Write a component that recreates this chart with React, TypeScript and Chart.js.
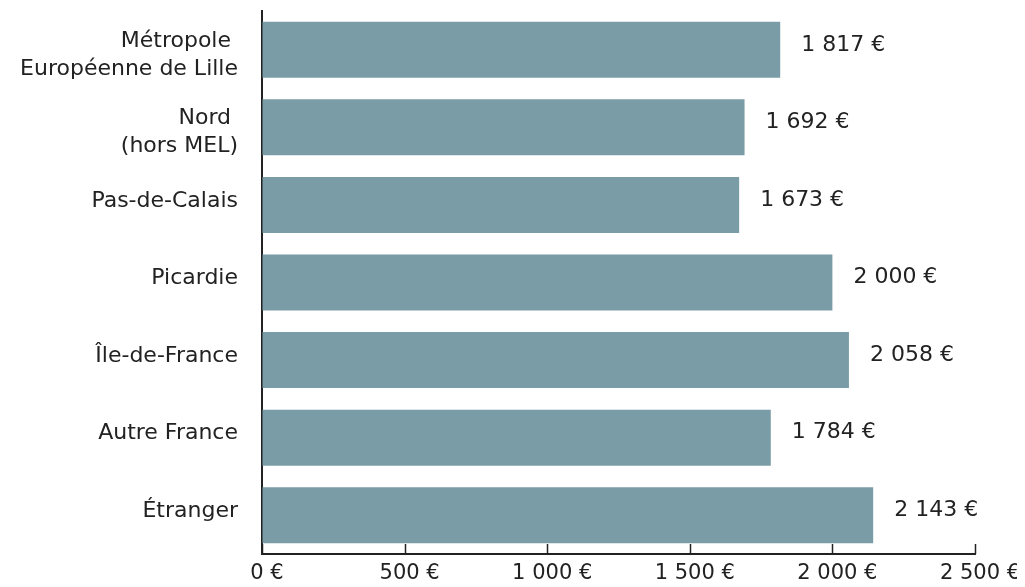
import React, { useEffect, useRef } from "react";
import { Chart, registerables } from "chart.js";

Chart.register(...registerables);

const categories: (string | string[])[] = [
  ["Métropole ", "Européenne de Lille"],
  ["Nord ", "(hors MEL)"],
  "Pas-de-Calais",
  "Picardie",
  "Île-de-France",
  "Autre France",
  "Étranger",
];
const salaries: number[] = [1817, 1692, 1673, 2000, 2058, 1784, 2143];
const tickValues: number[] = [0, 500, 1000, 1500, 2000, 2500];

const BAR_COLOR = "#7a9ca6";
const TEXT_COLOR = "#222222";
const FONT = "'DejaVu Sans', Verdana, sans-serif";

const fmt = (v: number) =>
  String(Math.round(v)).replace(/\B(?=(\d{3})+(?!\d))/g, " ") + " €";

const decorPlugin = {
  id: "decor",
  afterDatasetsDraw(chart: any) {
    const ctx = chart.ctx;
    const xs = chart.scales.x;
    const ys = chart.scales.y;
    const area = chart.chartArea;
    ctx.save();
    // inward tick marks on x axis
    ctx.strokeStyle = TEXT_COLOR;
    ctx.lineWidth = 1.5;
    xs.ticks.forEach((t: any) => {
      const px = Math.round(xs.getPixelForValue(t.value)) + 0.5;
      ctx.beginPath();
      ctx.moveTo(px, area.bottom);
      ctx.lineTo(px, area.bottom - 10);
      ctx.stroke();
    });
    // category labels
    ctx.fillStyle = TEXT_COLOR;
    ctx.font = `22px ${FONT}`;
    ctx.textAlign = "right";
    ctx.textBaseline = "middle";
    const lh = 28;
    ys.ticks.forEach((_t: any, i: number) => {
      const lab = categories[i];
      const lines = Array.isArray(lab) ? lab : [lab];
      const off = lines.length > 1 ? 5 : -4;
      const py = ys.getPixelForTick(i) + off - ((lines.length - 1) * lh) / 2;
      lines.forEach((ln, k) => ctx.fillText(ln, area.left - 24, py + k * lh));
    });
    // value labels
    const meta = chart.getDatasetMeta(0);
    ctx.textAlign = "left";
    meta.data.forEach((bar: any, i: number) => {
      ctx.fillText(fmt(salaries[i]), bar.x + 21, bar.y - 5);
    });
    ctx.restore();
  },
};

export default function App() {
  const ref = useRef<HTMLCanvasElement | null>(null);
  useEffect(() => {
    if (!ref.current) return;
    const chart = new Chart(ref.current, {
      type: "bar",
      data: {
        labels: categories,
        datasets: [
          {
            data: salaries,
            backgroundColor: BAR_COLOR,
            borderWidth: 0,
            barPercentage: 0.722,
            categoryPercentage: 1,
          },
        ],
      },
      options: {
        indexAxis: "y",
        animation: false,
        responsive: false,
        maintainAspectRatio: false,
        layout: { autoPadding: false, padding: { top: 3, right: 42, left: 0, bottom: 0 } },
        plugins: {
          legend: { display: false },
          tooltip: { enabled: false },
        },
        scales: {
          x: {
            min: 0,
            max: 2500,
            afterBuildTicks: (scale: any) => {
              scale.ticks = tickValues.map((v) => ({ value: v }));
            },
            afterFit: (scale: any) => {
              scale.height = 33;
              scale.paddingLeft = 0;
              scale.paddingRight = 0;
            },
            grid: { drawOnChartArea: false, drawTicks: false },
            border: { display: true, color: TEXT_COLOR, width: 2 },
            ticks: {
              color: TEXT_COLOR,
              font: { family: FONT, size: 21, lineHeight: 1 },
              padding: 9,
              labelOffset: 5,
              maxRotation: 0,
              autoSkip: false,
              callback: (v: any) => fmt(Number(v)),
            },
          },
          y: {
            afterFit: (scale: any) => {
              scale.width = 254;
              scale.paddingTop = 0;
              scale.paddingBottom = 0;
            },
            grid: { drawOnChartArea: false, drawTicks: false },
            border: { display: true, color: TEXT_COLOR, width: 2 },
            ticks: { display: false, autoSkip: false },
          },
        },
      },
      plugins: [decorPlugin],
    });
    return () => chart.destroy();
  }, []);
  return (
    <div style={{ width: 1009, height: 579, marginBottom: -8 }}>
      <canvas ref={ref} width={1009} height={579} style={{ display: "block" }} />
    </div>
  );
}
